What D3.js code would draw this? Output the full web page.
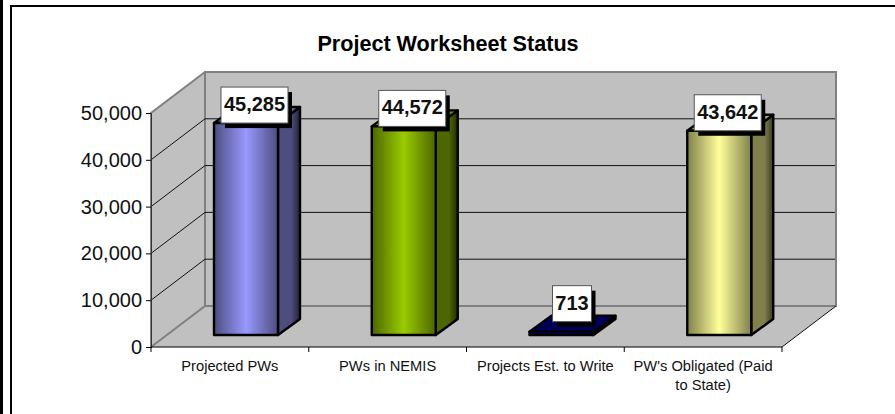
<!DOCTYPE html>
<html>
<head>
  <meta charset="UTF-8">
  <style>
    body { margin: 0; background: white; overflow: hidden; }
    svg { display: block; font-family: "Liberation Sans", Arial, sans-serif; }
    .tick text { fill: #111; }
  </style>
</head>
<body>
<svg></svg>
<script src="https://d3js.org/d3.v7.min.js"></script>
<script>
const categories = ["Projected PWs", "PWs in NEMIS", "Projects Est. to Write", "PW's Obligated (Paid to State)"];
const values = [45285, 44572, 713, 43642];
const barColors = ["#9999ff", "#99cc00", "#000080", "#ffff99"];
const yTicks = [0, 10000, 20000, 30000, 40000, 50000];

let width = 895, height = 414;
let svg = d3.select("svg").attr("width", width).attr("height", height);

// Outer frame bits of the original slide
svg.append("rect").attr("x", 0).attr("y", 0).attr("width", 3).attr("height", height).attr("fill", "black");
svg.append("path").attr("d", `M11 ${height}V6H${width}`).attr("fill", "none").attr("stroke", "black").attr("stroke-width", 2);

svg.append("text").attr("x", 448).attr("y", 51).attr("text-anchor", "middle")
  .style("font-size", "21.6px").style("font-weight", "bold").text("Project Worksheet Status");

// Front plane scales, the 3d depth is a fixed offset from them
let x = d3.scaleBand().domain(categories).range([151, 782]);
let y = d3.scaleLinear().domain([0, 50000]).range([347, 113]);
let depthX = 54, depthY = -41;

let gray = "#808080";
let wall = svg.append("g");
wall.append("path") // left wall
  .attr("d", `M151 ${y(0)}V${y(50000)}l${depthX} ${depthY}V${y(0) + depthY}Z`)
  .attr("fill", "#c0c0c0");
wall.append("rect") // back wall
  .attr("x", 151 + depthX).attr("y", y(50000) + depthY)
  .attr("width", 631).attr("height", y(0) - y(50000))
  .attr("fill", "#c0c0c0").attr("stroke", gray).attr("stroke-width", 2);
wall.append("path") // floor
  .attr("d", `M151 ${y(0)}h631l${depthX} ${depthY}h-631Z`)
  .attr("fill", "#c0c0c0");
wall.append("path")
  .attr("d", `M151 ${y(0)}V${y(50000)}l${depthX} ${depthY}M151 ${y(0)}l${depthX} ${depthY}V${y(50000) + depthY}M${151 + depthX} ${y(0) + depthY}h631`)
  .attr("fill", "none").attr("stroke", gray).attr("stroke-width", 2);

// Gridlines run over the left wall then along the back wall
wall.selectAll(".grid")
  .data(yTicks.filter(d => d > 0 && d < 50000))
  .enter()
  .append("path")
  .attr("class", "grid")
  .attr("d", d => `M151 ${y(d)}l${depthX} ${depthY}h630`)
  .attr("fill", "none").attr("stroke", "#111").attr("stroke-width", 1);

// Floor edges
wall.append("path")
  .attr("d", `M782 ${y(0)}l${depthX} ${depthY}`)
  .attr("stroke", "#111").attr("stroke-width", 1);

// Axes
let yAxis = svg.append("g").attr("transform", "translate(151,0)")
  .call(d3.axisLeft(y).tickValues(yTicks).tickFormat(d3.format(",")).tickSize(5).tickPadding(4));
yAxis.select(".domain").attr("stroke", "#333");
yAxis.selectAll("text").style("font-size", "20px").style("font-family", "inherit");

let edges = d3.range(categories.length + 1).map(i => 151 + i * x.step());
let xAxis = svg.append("g").attr("transform", `translate(0,${y(0)})`);
xAxis.append("path").attr("d", "M151 0H782").attr("stroke", "black");
xAxis.selectAll("line").data(edges).enter().append("line")
  .attr("x1", d => d).attr("x2", d => d).attr("y1", 0).attr("y2", 5).attr("stroke", "black");

let catLabels = xAxis.selectAll("text").data(categories).enter().append("text")
  .attr("x", d => x(d) + x.step() / 2)
  .attr("y", 24)
  .attr("text-anchor", "middle")
  .style("font-size", "14.7px")
  .style("fill", "#111")
  .text(d => d);

// Wrap long labels to the band width
catLabels.each(function(d) {
  let el = d3.select(this), words = d.split(" "), line = [];
  let px = +el.attr("x");
  el.text(null);
  let ts = el.append("tspan").attr("x", px);
  words.forEach(w => {
    line.push(w);
    ts.text(line.join(" "));
    if (ts.node().getComputedTextLength() > x.step() - 10 && line.length > 1) {
      line.pop();
      ts.text(line.join(" "));
      line = [w];
      ts = el.append("tspan").attr("x", px).attr("dy", 19).text(w);
    }
  });
});

// Gradients for the cylinder-like shaded faces
let defs = svg.append("defs");
barColors.forEach((c, i) => {
  let edge = d3.interpolateRgb(c, "#000")(0.5);
  let far = d3.interpolateRgb(c, "#000")(0.78);
  let front = defs.append("linearGradient").attr("id", "front" + i);
  front.append("stop").attr("offset", "0%").attr("stop-color", edge);
  front.append("stop").attr("offset", "50%").attr("stop-color", c);
  front.append("stop").attr("offset", "100%").attr("stop-color", edge);
  let side = defs.append("linearGradient").attr("id", "side" + i);
  side.append("stop").attr("offset", "0%").attr("stop-color", edge);
  side.append("stop").attr("offset", "60%").attr("stop-color", edge);
  side.append("stop").attr("offset", "100%").attr("stop-color", far);
});

// Bars
let barW = 64, barInset = 63, barLift = 12, sideX = 22, sideY = -16;
let h = d => y(0) - y(d);
let bars = svg.selectAll(".bar")
  .data(categories.map((c, i) => ({ cat: c, value: values[i], i: i })))
  .enter().append("g").attr("class", "bar")
  .attr("transform", d => `translate(${x(d.cat) + barInset},${y(0) - barLift})`);

bars.append("path") // side
  .attr("d", d => `M${barW} 0v${-h(d.value)}l${sideX} ${sideY}v${h(d.value)}Z`)
  .attr("fill", d => `url(#side${d.i})`);
bars.append("path") // top
  .attr("d", d => `M0 ${-h(d.value)}h${barW}l${sideX} ${sideY}h${-barW}Z`)
  .attr("fill", d => d3.interpolateRgb(barColors[d.i], "#000")(0.3));
bars.append("rect") // front
  .attr("y", d => -h(d.value)).attr("width", barW).attr("height", d => h(d.value))
  .attr("fill", d => `url(#front${d.i})`);
bars.selectAll("rect, path")
  .attr("stroke", "black").attr("stroke-width", 2.4).attr("stroke-linejoin", "round");

// Data labels, white box with a hard black shadow
let boxH = 36;
let labels = bars.append("g")
  .attr("transform", d => {
    let small = d.value < 5000;
    return `translate(${barW / 2 + (small ? 10.5 : 8.5)},${-h(d.value) - (small ? 10 : 0)})`;
  });
labels.each(function(d) {
  let g = d3.select(this);
  let t = g.append("text").attr("text-anchor", "middle").attr("y", -12)
    .style("font-size", "20px").style("font-weight", "bold").style("fill", "#111")
    .text(d3.format(",")(d.value));
  let w = Math.round(t.node().getComputedTextLength()) + 6;
  g.insert("rect", "text").attr("x", -w / 2 + 4).attr("y", -boxH + 5).attr("width", w).attr("height", boxH)
    .attr("fill", "black");
  g.insert("rect", "text").attr("x", -w / 2).attr("y", -boxH).attr("width", w).attr("height", boxH)
    .attr("fill", "white").attr("stroke", "#555").attr("stroke-width", 1);
});
</script>
</body>
</html>
